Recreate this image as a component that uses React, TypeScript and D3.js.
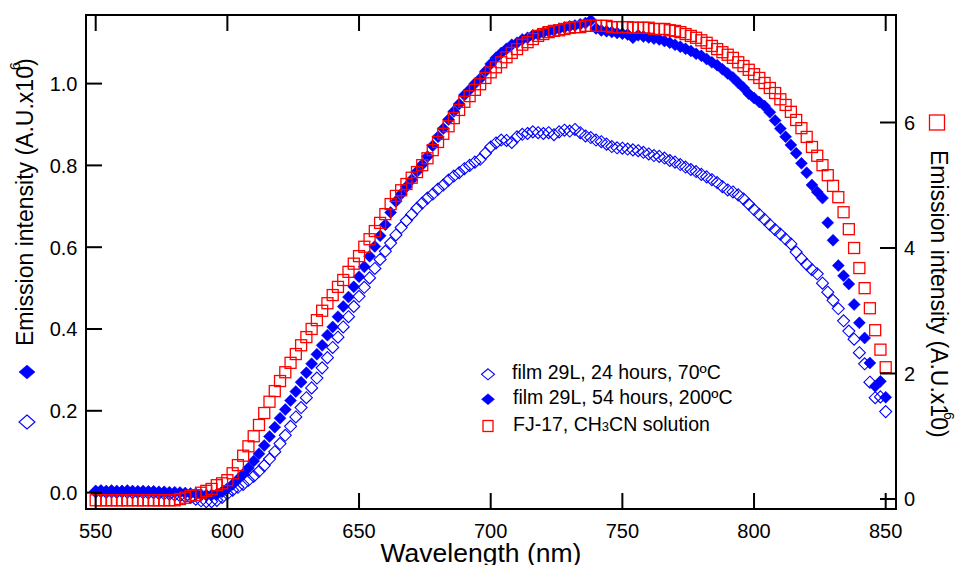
import React from "react";
import * as d3 from "d3";

const WAVELENGTHS: number[] = d3.range(550, 852, 2);

// film 29L, 24 hours, 70ºC (left axis, x10^6)
const OPEN_DIAMOND: number[] = [
  0.002, 0.003, 0.001, 0.002, 0.001,
  0.002, 0.001, 0.0, 0.001, 0.0,
  -0.001, 0.0, -0.002, -0.003, -0.004,
  -0.006, -0.008, -0.01, -0.012, -0.016,
  -0.02, -0.022, -0.022, -0.019, -0.012,
  -0.003, 0.006, 0.013, 0.02, 0.03,
  0.04, 0.052, 0.066, 0.082, 0.1,
  0.12, 0.14, 0.162, 0.185, 0.208,
  0.232, 0.256, 0.28, 0.305, 0.33,
  0.355, 0.38, 0.405, 0.43, 0.455,
  0.48, 0.502, 0.525, 0.548, 0.57,
  0.59, 0.61, 0.63, 0.648, 0.665,
  0.68, 0.695, 0.708, 0.72, 0.73,
  0.742, 0.752, 0.764, 0.774, 0.782,
  0.792, 0.8, 0.808, 0.815, 0.83,
  0.845, 0.855, 0.862, 0.861, 0.856,
  0.87, 0.876, 0.878, 0.882, 0.88,
  0.878, 0.88, 0.875, 0.882, 0.886,
  0.884, 0.888, 0.88, 0.872, 0.868,
  0.862, 0.858, 0.852, 0.846, 0.843,
  0.842, 0.84, 0.838, 0.836, 0.832,
  0.828, 0.824, 0.822, 0.818, 0.812,
  0.808, 0.802, 0.796, 0.79, 0.785,
  0.778, 0.772, 0.765, 0.758, 0.748,
  0.74, 0.735, 0.728, 0.718, 0.705,
  0.692, 0.68, 0.668, 0.655, 0.643,
  0.632, 0.62, 0.608, 0.588, 0.572,
  0.558, 0.545, 0.535, 0.512, 0.49,
  0.47, 0.45, 0.42, 0.395, 0.375,
  0.342, 0.315, 0.27, 0.232, 0.234,
  0.198,
];

// film 29L, 54 hours, 200ºC (left axis, x10^6)
const FILLED_DIAMOND: number[] = [
  0.004, 0.005, 0.004, 0.005, 0.004,
  0.004, 0.005, 0.004, 0.003, 0.004,
  0.003, 0.003, 0.002, 0.002, 0.001,
  0.001, 0.0, -0.001, -0.002, -0.003,
  -0.005, -0.006, -0.006, -0.004, 0.002,
  0.01, 0.02, 0.032, 0.045, 0.06,
  0.077, 0.095, 0.115, 0.137, 0.16,
  0.182, 0.203, 0.225, 0.247, 0.27,
  0.293, 0.315, 0.338, 0.36, 0.385,
  0.405, 0.43, 0.455, 0.478, 0.503,
  0.528, 0.552, 0.578, 0.602, 0.628,
  0.655, 0.685, 0.712, 0.73, 0.748,
  0.765, 0.785, 0.802, 0.822, 0.848,
  0.87, 0.89, 0.912, 0.932, 0.95,
  0.972, 0.985, 1.0, 1.012, 1.03,
  1.048, 1.063, 1.075, 1.085, 1.095,
  1.1, 1.108, 1.112, 1.118, 1.12,
  1.125, 1.128, 1.13, 1.134, 1.137,
  1.14, 1.142, 1.145, 1.148, 1.155,
  1.135, 1.13, 1.128, 1.126, 1.124,
  1.122, 1.12, 1.112, 1.118, 1.115,
  1.113, 1.11, 1.108, 1.104, 1.1,
  1.095, 1.09, 1.085, 1.08, 1.073,
  1.068, 1.06, 1.052, 1.045, 1.035,
  1.025, 1.015, 1.002, 0.99, 0.975,
  0.965, 0.955, 0.945, 0.93, 0.91,
  0.89, 0.87, 0.85, 0.83, 0.805,
  0.782, 0.752, 0.735, 0.72, 0.66,
  0.617, 0.555, 0.53, 0.51, 0.46,
  0.415, 0.378, 0.317, 0.26, 0.272,
  0.233,
];

// FJ-17, CH3CN solution (right axis, x10^6)
const OPEN_SQUARE: number[] = [
  -0.02, -0.02, -0.02, -0.02, -0.02,
  -0.02, -0.02, -0.02, -0.02, -0.02,
  -0.02, -0.02, -0.02, -0.02, -0.02,
  -0.02, 0.0, 0.02, 0.05, 0.06,
  0.1, 0.13, 0.16, 0.22, 0.25,
  0.3, 0.41, 0.54, 0.69, 0.84,
  1.0, 1.18, 1.37, 1.55, 1.72,
  1.88, 2.02, 2.17, 2.31, 2.45,
  2.58, 2.71, 2.85, 3.0, 3.12,
  3.25, 3.38, 3.49, 3.62, 3.75,
  3.87, 4.02, 4.14, 4.27, 4.4,
  4.54, 4.7, 4.83, 4.92, 5.02,
  5.12, 5.21, 5.32, 5.43, 5.56,
  5.69, 5.82, 5.94, 6.07, 6.2,
  6.33, 6.42, 6.52, 6.61, 6.71,
  6.8, 6.88, 6.96, 7.04, 7.11,
  7.17, 7.24, 7.28, 7.33, 7.38,
  7.41, 7.44, 7.46, 7.47, 7.49,
  7.51, 7.52, 7.52, 7.54, 7.54,
  7.54, 7.54, 7.54, 7.52, 7.52,
  7.52, 7.52, 7.51, 7.51, 7.51,
  7.51, 7.49, 7.49, 7.49, 7.47,
  7.46, 7.44, 7.41, 7.38, 7.35,
  7.31, 7.27, 7.22, 7.17, 7.12,
  7.08, 7.03, 6.96, 6.9, 6.84,
  6.77, 6.71, 6.63, 6.55, 6.47,
  6.37, 6.28, 6.17, 6.04, 5.91,
  5.77, 5.61, 5.47, 5.32, 5.16,
  4.99, 4.81, 4.57, 4.3, 4.0,
  3.68, 3.36, 3.04, 2.69, 2.38,
  2.1,
];

const X_TICKS = [550, 600, 650, 700, 750, 800, 850];
const LEFT_TICKS = [0, 0.2, 0.4, 0.6, 0.8, 1.0];
const RIGHT_TICKS = [0, 2, 4, 6];

const LEGEND_LABELS = [
  "film 29L, 24 hours, 70ºC",
  "film 29L, 54 hours, 200ºC",
];

const FONT = "'Liberation Sans', Arial, Helvetica, sans-serif";
const BLUE = "#0000ff";
const RED = "#ff0000";

const FRAME = { left: 86, right: 896, top: 15, bottom: 509 };

function diamond(cx: number, cy: number, w: number, h: number) {
  return `M${cx},${cy - h}L${cx + w},${cy}L${cx},${cy + h}L${cx - w},${cy}Z`;
}

export default function App() {
  const x = d3.scaleLinear().domain([550, 850]).range([95.7, 885.7]);
  const yL = d3.scaleLinear().domain([0, 1]).range([492.6, 83.6]);
  const yR = d3.scaleLinear().domain([0, 6]).range([499, 122.5]);
  const tickLen = 16;

  return (
    <svg
      width={956}
      height={565}
      style={{ position: "absolute", left: 0, top: 0, background: "#fff" }}
      fontFamily={FONT}
    >
      <rect x={0} y={0} width={956} height={565} fill="#fff" />

      {/* data */}
      <g>
        {WAVELENGTHS.map((w, i) => (
          <path
            key={"o" + i}
            d={diamond(x(w), yL(OPEN_DIAMOND[i]), 6, 6)}
            fill="none"
            stroke={BLUE}
            strokeWidth={1.1}
          />
        ))}
      </g>
      <g>
        {WAVELENGTHS.map((w, i) => (
          <path
            key={"f" + i}
            d={diamond(x(w), yL(FILLED_DIAMOND[i]), 6, 6)}
            fill={BLUE}
            stroke={BLUE}
            strokeWidth={0.5}
          />
        ))}
      </g>
      <g>
        {WAVELENGTHS.map((w, i) => (
          <rect
            key={"s" + i}
            x={x(w) - 5.5}
            y={yR(OPEN_SQUARE[i]) - 5.5}
            width={11}
            height={11}
            fill="none"
            stroke={RED}
            strokeWidth={1.3}
          />
        ))}
      </g>

      {/* frame */}
      <rect
        x={FRAME.left}
        y={FRAME.top}
        width={FRAME.right - FRAME.left}
        height={FRAME.bottom - FRAME.top}
        fill="none"
        stroke="#000"
        strokeWidth={2}
      />

      {/* x ticks */}
      {X_TICKS.map((t) => (
        <g key={"xt" + t}>
          <line x1={x(t)} x2={x(t)} y1={FRAME.bottom} y2={FRAME.bottom - tickLen} stroke="#000" strokeWidth={2} />
          <line x1={x(t)} x2={x(t)} y1={FRAME.top} y2={FRAME.top + tickLen} stroke="#000" strokeWidth={2} />
          <text x={x(t)} y={538} fontSize={20} textAnchor="middle" fill="#000">
            {t}
          </text>
        </g>
      ))}

      {/* left ticks */}
      {LEFT_TICKS.map((t) => (
        <g key={"lt" + t}>
          <line x1={FRAME.left} x2={FRAME.left + tickLen} y1={yL(t)} y2={yL(t)} stroke="#000" strokeWidth={2} />
          <text x={77.5} y={yL(t) + 7.3} fontSize={20} textAnchor="end" fill="#000">
            {t.toFixed(1)}
          </text>
        </g>
      ))}

      {/* right ticks */}
      {RIGHT_TICKS.map((t) => (
        <g key={"rt" + t}>
          <line x1={FRAME.right} x2={FRAME.right - tickLen} y1={yR(t)} y2={yR(t)} stroke="#000" strokeWidth={2} />
          <text x={904} y={yR(t) + 7.3} fontSize={20} textAnchor="start" fill="#000">
            {t}
          </text>
        </g>
      ))}

      {/* x title */}
      <text x={481} y={562} fontSize={26.5} textAnchor="middle" fill="#000">
        Wavelength (nm)
      </text>

      {/* left title */}
      <text transform="translate(33,346) rotate(-90)" fontSize={23} textAnchor="start" fill="#000">
        Emission intensity (A.U.x10)
      </text>
      <text transform="translate(20,66) rotate(-90)" fontSize={14} textAnchor="middle" fill="#000">
        6
      </text>
      <path d={diamond(27, 372, 8, 7)} fill={BLUE} stroke={BLUE} strokeWidth={0.5} />
      <path d={diamond(27, 422, 8, 7)} fill="none" stroke={BLUE} strokeWidth={1.1} />

      {/* right title */}
      <text transform="translate(931,150) rotate(90)" fontSize={23} textAnchor="start" fill="#000">
        Emission intensity (A.U.x10)
      </text>
      <text transform="translate(944,416) rotate(90)" fontSize={14} textAnchor="middle" fill="#000">
        6
      </text>
      <rect x={929.5} y={115} width={15} height={15} fill="none" stroke={RED} strokeWidth={1.3} />

      {/* legend */}
      <path d={diamond(488, 374.3, 6.5, 5.5)} fill="none" stroke={BLUE} strokeWidth={1.1} />
      <text x={512} y={378.5} fontSize={19.5} fill="#000">
        {LEGEND_LABELS[0]}
      </text>
      <path d={diamond(488, 399.3, 6.5, 5.5)} fill={BLUE} stroke={BLUE} strokeWidth={0.5} />
      <text x={513} y={403.5} fontSize={19.5} fill="#000">
        {LEGEND_LABELS[1]}
      </text>
      <rect x={483} y={420.5} width={10} height={11} fill="none" stroke={RED} strokeWidth={1.3} />
      <text x={513} y={431} fontSize={19.5} fill="#000">
        FJ-17, CH<tspan fontSize={13}>3</tspan>CN solution
      </text>
    </svg>
  );
}
